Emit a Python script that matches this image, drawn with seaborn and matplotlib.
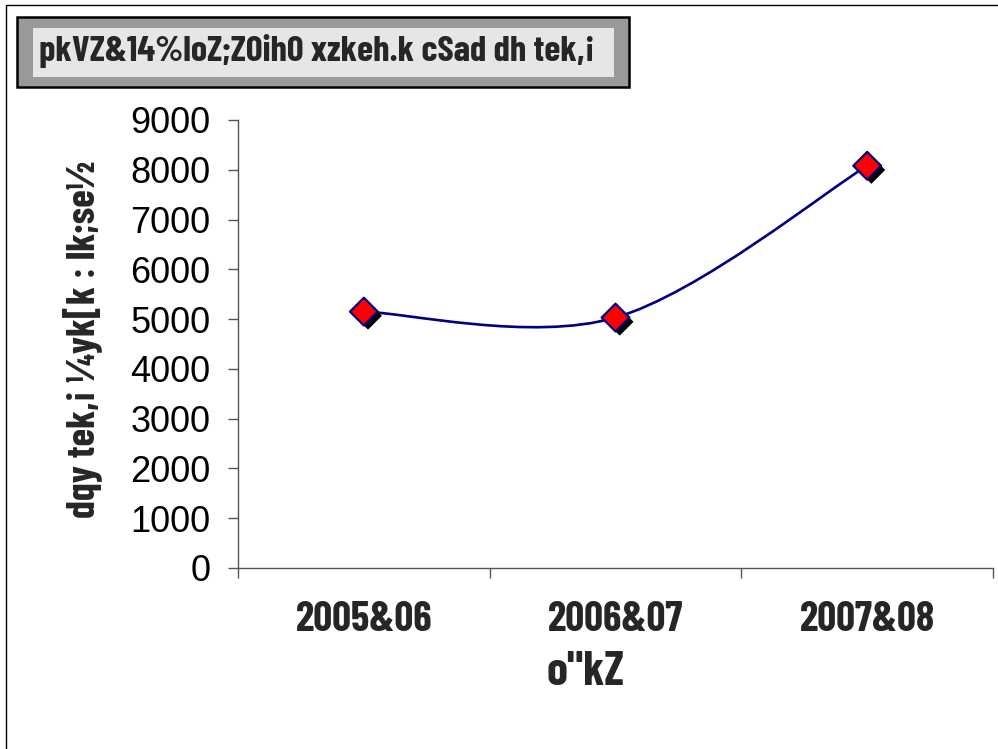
import numpy as np
import pandas as pd
import matplotlib
matplotlib.use("Agg")
import matplotlib.pyplot as plt
import matplotlib.patheffects as pe
from matplotlib.path import Path
from matplotlib.patches import PathPatch, Rectangle
import seaborn as sns

# --- Data ---
years = ["2005&06", "2006&07", "2007&08"]
deposits = [5150, 5030, 8080]

TITLE = "pkVZ&14%loZ;Z0ih0 xzkeh.k cSad dh tek,\u00a1"
YLABEL = "dqy tek,\u00a1 \u00bcyk[k : lk;se\u00bd"
XLABEL = 'o"kZ'

NAVY = "#000080"
COND = ["Barlow Condensed", "Roboto Condensed", "DejaVu Sans"]
W, H = 998, 749


def excel_smooth_path(xs, ys):
    # Bezier segments through every point (Excel style smoothed line)
    pts = np.column_stack([xs, ys]).astype(float)
    n = len(pts)
    verts = [pts[0]]
    codes = [Path.MOVETO]
    for i in range(n - 1):
        p0 = pts[i - 1] if i > 0 else pts[i]
        p1 = pts[i]
        p2 = pts[i + 1]
        p3 = pts[i + 2] if i + 2 < n else pts[i + 1]
        c1 = p1 + (p2 - p0) / 6.0
        c2 = p2 - (p3 - p1) / 6.0
        verts += [c1, c2, p2]
        codes += [Path.CURVE4] * 3
    return Path(verts, codes)


def px_rect(x0, y0, x1, y1, **kw):
    # rectangle given in picture pixels (top-left origin)
    return Rectangle((x0 / W, 1 - y1 / H), (x1 - x0) / W, (y1 - y0) / H,
                     transform=plt.gcf().transFigure, **kw)


def main():
    df = pd.DataFrame({"year": years, "deposit": deposits})
    df["x"] = np.arange(len(df))

    sns.set_theme(style="white")
    plt.rcParams["font.family"] = ["Liberation Sans", "DejaVu Sans"]

    fig = plt.figure(figsize=(9.98, 7.49), dpi=100)
    ax = fig.add_axes([0.2385, 0.2417, 0.7565, 0.5981])

    # smoothed line
    ax.add_patch(PathPatch(excel_smooth_path(df["x"], df["deposit"]),
                           facecolor="none", edgecolor=NAVY, lw=1.9, zorder=2))

    # diamond markers with drop shadow
    sns.scatterplot(data=df, x="x", y="deposit", marker="D", s=200,
                    color="#ff0000", edgecolor=NAVY, linewidth=1.6, zorder=3,
                    ax=ax, legend=False)
    for coll in ax.collections:
        coll.set_path_effects([pe.SimplePatchShadow(offset=(3, -3), shadow_rgbFace="black", alpha=1.0),
                               pe.Normal()])

    ax.set_xlim(-0.5, 2.5)
    ax.set_ylim(0, 9000)
    ax.set_yticks(np.arange(0, 9001, 1000))
    ax.set_xticks(df["x"])
    ax.set_xticklabels(years, family=COND, fontweight="bold", fontsize=30)
    ax.set_xticks([-0.5, 0.5, 1.5, 2.5], minor=True)
    ax.tick_params(axis="x", which="major", length=0, pad=24)
    ax.tick_params(axis="x", which="minor", length=7, width=1, color="#555555", direction="out", bottom=True)
    ax.tick_params(axis="y", length=7, width=1, color="#555555", direction="out", left=True,
                   labelsize=26, pad=13, labelcolor="black")

    for side in ["top", "right"]:
        ax.spines[side].set_visible(False)
    for side in ["left", "bottom"]:
        ax.spines[side].set_color("#555555")
        ax.spines[side].set_linewidth(1)

    ax.set_xlabel(XLABEL, family=COND, fontweight="bold", fontsize=34, va="top")
    ax.xaxis.set_label_coords(0.46, -0.185)
    ax.set_ylabel(YLABEL, family=COND, fontweight="bold", fontsize=29)
    ax.yaxis.set_label_coords(-0.18, 0.51)

    # title box
    fig.patches.append(px_rect(17, 17, 629, 87, facecolor="#999999", edgecolor="black", lw=1.8))
    fig.patches.append(px_rect(33, 28, 614, 77, facecolor="#e6e6e6", edgecolor="none"))
    fig.text(39 / W, 1 - 51 / H, TITLE, family=COND, fontweight="bold",
             fontsize=26.4, ha="left", va="center")

    # outer chart border
    fig.patches.append(px_rect(6, 5, W + 5, H + 5, facecolor="none", edgecolor="black", lw=1))

    fig.savefig("out.png", dpi=100)


if __name__ == "__main__":
    main()
